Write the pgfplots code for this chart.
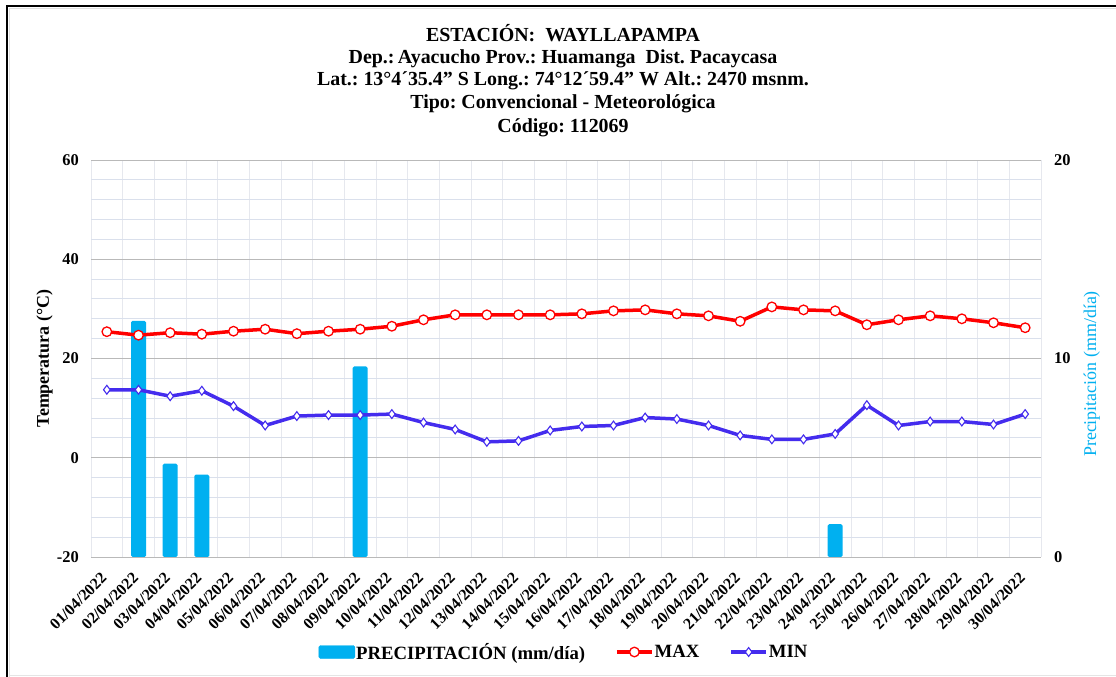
\documentclass[border=0pt]{standalone}
\usepackage{fontspec}
\setmainfont{Liberation Serif}
\usepackage{pgfplots}
\pgfplotsset{compat=1.18}
\definecolor{precblue}{RGB}{0,176,240}
\definecolor{maxred}{RGB}{255,0,0}
\definecolor{minblue}{RGB}{68,44,238}
\definecolor{gridmaj}{RGB}{185,185,185}
\definecolor{gridmin}{RGB}{218,224,236}
\definecolor{gridvert}{RGB}{230,232,238}

\pgfplotsset{
  base/.style={
    at={(91bp,120bp)}, anchor=south west,
    scale only axis, width=950bp, height=397bp,
    xmin=0.5, xmax=30.5,
    axis line style={draw=none}, tick style={draw=none},
    /pgf/number format/assume math mode=true,
  },
}

\begin{document}
\begin{tikzpicture}
\fill[white] (0bp,0bp) rectangle (1116bp,677bp);
\draw[black!12, line width=1bp] (9.5bp,0bp) -- (9.5bp,668.5bp) -- (1116bp,668.5bp);
\draw[black!10, line width=1bp] (9.5bp,1.5bp) -- (1116bp,1.5bp);
\draw[black, line width=2.5bp] (7bp,0bp) -- (7bp,671bp) -- (1116bp,671bp);

% title
\begin{scope}[every node/.style={anchor=base, inner sep=0pt, font=\bfseries\fontsize{20}{22}\selectfont}]
\node at (563bp,635.5bp) {ESTACIÓN:\ \ WAYLLAPAMPA};
\node at (563bp,613.5bp) {Dep.:\,Ayacucho\ Prov.:\ Huamanga\ \ Dist.\ Pacaycasa};
\node at (563bp,591bp) {Lat.:\ 13°4´35.4\char34\ S Long.:\ 74°12´59.4\char34\ W Alt.:\ 2470 msnm.};
\node at (563bp,568bp) {Tipo:\ Convencional\ -\ Meteorológica};
\node at (563bp,544.5bp) {Código:\ 112069};
\end{scope}

% grid and left axis
\begin{axis}[base,
  ymin=-20, ymax=60,
  ytick={-20,0,20,40,60}, minor y tick num=4,
  xtick={1,...,30},
  minor xtick={0.5,1.5,...,30.5},
  xticklabels={01/04/2022,02/04/2022,03/04/2022,04/04/2022,05/04/2022,06/04/2022,07/04/2022,08/04/2022,09/04/2022,10/04/2022,11/04/2022,12/04/2022,13/04/2022,14/04/2022,15/04/2022,16/04/2022,17/04/2022,18/04/2022,19/04/2022,20/04/2022,21/04/2022,22/04/2022,23/04/2022,24/04/2022,25/04/2022,26/04/2022,27/04/2022,28/04/2022,29/04/2022,30/04/2022},
  ymajorgrids, yminorgrids, xminorgrids,
  major grid style={gridmaj, line width=0.9bp},
  minor y grid style={gridmin, line width=0.9bp},
  minor x grid style={gridvert, line width=0.9bp},
  xticklabel style={rotate=45, anchor=east, inner sep=0pt, xshift=-15bp, yshift=-11bp,
    font=\bfseries\fontsize{16}{16}\selectfont},
  yticklabel style={anchor=east, inner sep=0pt, xshift=-12bp,
    font=\bfseries\fontsize{16.5}{16}\selectfont},
  ylabel={Temperatura (°C)},
  ylabel style={at={(axis description cs:-0.049,0.5)}, anchor=center,
    font=\bfseries\fontsize{18}{18}\selectfont},
]
\addplot[draw=none, forget plot] coordinates {(1,0)};
\end{axis}

% precipitation bars, right axis
\begin{axis}[base,
  ymin=0, ymax=20,
  axis y line*=right, axis x line=none,
  ytick={0,10,20},
  yticklabel style={anchor=west, inner sep=0pt, xshift=13bp,
    font=\bfseries\fontsize{16.5}{16}\selectfont},
  ylabel={Precipitación (mm/día)},
  ylabel style={at={(axis description cs:1.0534,0.461)}, anchor=center,
    color=precblue, font=\fontsize{18}{18}\selectfont},
  ybar, bar width=15bp,
]
\addplot[fill=precblue, draw=none, rounded corners=1.5bp] coordinates {
  (2,11.9) (3,4.7) (4,4.15) (9,9.6) (24,1.65)
};
\end{axis}

% temperature lines
\begin{axis}[base,
  ymin=-20, ymax=60, hide axis,
  legend columns=3,
  legend image code/.code={
    \draw[mark repeat=2, mark phase=2, #1] plot coordinates {(0bp,0bp) (17.5bp,0bp) (35bp,0bp)};
  },
  legend style={at={(0.4974,-0.2393)}, anchor=center, draw=none, fill=none,
    font=\bfseries\fontsize{18.8}{18}\selectfont,
    nodes={inner sep=1bp},
    /tikz/every even column/.append style={column sep=29bp}},
]
\addlegendimage{legend image code/.code={
  \fill[precblue, rounded corners=1.5bp] (0bp,-6.5bp) rectangle (36bp,6.5bp);}}
\addlegendentry{PRECIPITACIÓN (mm/día)}

\addplot[maxred, line width=3.5bp, mark=*, mark size=4.8bp,
  mark options={fill=white, draw=maxred, line width=1.3bp}] coordinates {
  (1,25.4) (2,24.7) (3,25.2) (4,24.9) (5,25.5) (6,25.9) (7,25.0) (8,25.5)
  (9,25.9) (10,26.5) (11,27.8) (12,28.8) (13,28.8) (14,28.8) (15,28.8)
  (16,29.0) (17,29.6) (18,29.8) (19,29.0) (20,28.6) (21,27.5) (22,30.4)
  (23,29.8) (24,29.6) (25,26.8) (26,27.8) (27,28.6) (28,28.0) (29,27.2) (30,26.2)
};
\addlegendentry{MAX}

\addplot[minblue, line width=3.5bp, mark=diamond*, mark size=4.4bp,
  mark options={fill=white, draw=minblue, line width=1.1bp}] coordinates {
  (1,13.7) (2,13.7) (3,12.4) (4,13.5) (5,10.4) (6,6.5) (7,8.4) (8,8.6)
  (9,8.6) (10,8.8) (11,7.1) (12,5.7) (13,3.2) (14,3.4) (15,5.5)
  (16,6.3) (17,6.5) (18,8.1) (19,7.8) (20,6.5) (21,4.5) (22,3.7)
  (23,3.7) (24,4.8) (25,10.6) (26,6.5) (27,7.3) (28,7.3) (29,6.7) (30,8.8)
};
\addlegendentry{MIN}
\end{axis}

\pgfresetboundingbox
\useasboundingbox (0bp,0bp) rectangle (1116bp,677bp);
\end{tikzpicture}
\end{document}
